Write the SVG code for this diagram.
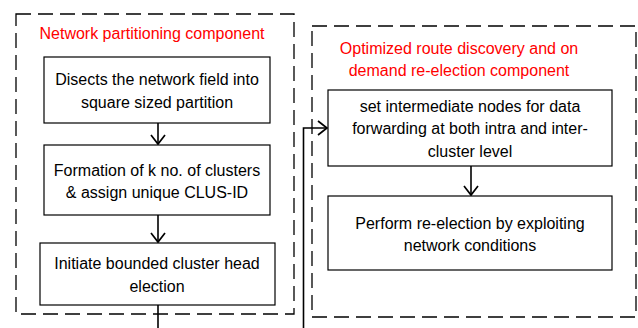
<svg xmlns="http://www.w3.org/2000/svg" width="638" height="328" viewBox="0 0 638 328">
<defs>
<style>
.dash{fill:none;stroke:#000;stroke-width:1.3;stroke-dasharray:15 7}
.box{fill:#fff;stroke:#000;stroke-width:1.2}
.t{font-family:"Liberation Sans",Arial,sans-serif;font-size:16px;fill:#000;text-anchor:middle}
.r{font-family:"Liberation Sans",Arial,sans-serif;font-size:16px;fill:#ff0000;text-anchor:middle}
.ln{fill:none;stroke:#000;stroke-width:1.6}
</style>
<marker id="ah" markerWidth="18" markerHeight="18" refX="12" refY="9" orient="auto" markerUnits="userSpaceOnUse">
<path d="M3,2 L12,9 L3,16" fill="none" stroke="#000" stroke-width="1.7"/>
</marker>
</defs>
<rect width="638" height="328" fill="#fff"/>
<g id="group-partitioning">
<rect class="dash" x="16" y="14" width="278" height="300"/>
<text class="r" x="152" y="39">Network partitioning component</text>
</g>
<g id="group-route">
<rect class="dash" x="312" y="26" width="324" height="291"/>
<text class="r" x="459" y="54">Optimized route discovery and on</text>
<text class="r" x="459" y="76">demand re-election component</text>
</g>
<g id="connectors">
<line class="ln" x1="158" y1="123" x2="158" y2="144" marker-end="url(#ah)"/>
<line class="ln" x1="158" y1="215" x2="158" y2="242" marker-end="url(#ah)"/>
<line class="ln" x1="158" y1="305" x2="158" y2="328"/>
<polyline class="ln" points="303.5,328 303.5,128 327,128" marker-end="url(#ah)"/>
<line class="ln" x1="471" y1="166" x2="471" y2="195" marker-end="url(#ah)"/>
</g>
<g id="node-disects">
<rect class="box" x="44" y="57" width="226" height="66"/>
<text class="t" x="157" y="85">Disects the network field into</text>
<text class="t" x="157" y="108">square sized partition</text>
</g>
<g id="node-formation">
<rect class="box" x="44" y="145" width="226" height="70"/>
<text class="t" x="157" y="176">Formation of k no. of clusters</text>
<text class="t" x="157" y="198">&amp; assign unique CLUS-ID</text>
</g>
<g id="node-initiate">
<rect class="box" x="40" y="243" width="235" height="62"/>
<text class="t" x="157" y="269">Initiate bounded cluster head</text>
<text class="t" x="157" y="292">election</text>
</g>
<g id="node-set">
<rect class="box" x="328" y="90" width="284" height="76"/>
<text class="t" x="470" y="112">set intermediate nodes for data</text>
<text class="t" x="470" y="134">forwarding at both intra and inter-</text>
<text class="t" x="470" y="157">cluster level</text>
</g>
<g id="node-perform">
<rect class="box" x="328" y="196" width="284" height="74"/>
<text class="t" x="470" y="229">Perform re-election by exploiting</text>
<text class="t" x="470" y="251">network conditions</text>
</g>
</svg>
